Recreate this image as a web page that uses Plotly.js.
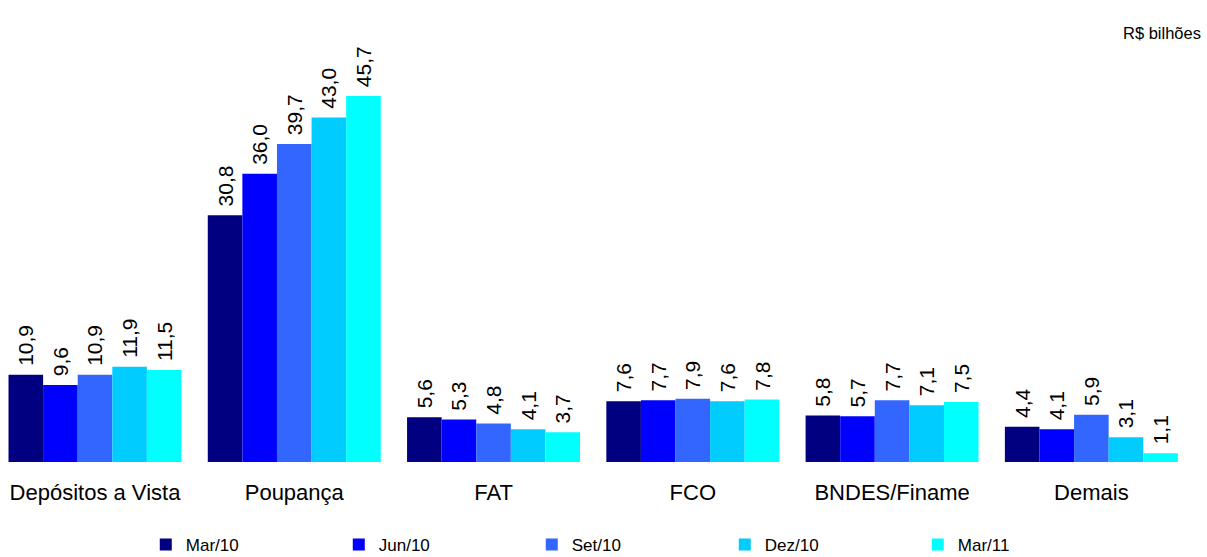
<!DOCTYPE html>
<html>
<head>
<meta charset="utf-8">
<script src="https://cdn.plot.ly/plotly-3.0.1.min.js"></script>
<style>html,body{margin:0;padding:0;background:#fff;overflow:hidden;}
#wrap{width:1207px;height:557px;overflow:hidden;}</style>
</head>
<body>
<div id="wrap"><div id="chart" style="width:1207px;height:563px;"></div></div>
<script>
const categories = ["Depósitos a Vista", "Poupança", "FAT", "FCO", "BNDES/Finame", "Demais"];
const seriesNames = ["Mar/10", "Jun/10", "Set/10", "Dez/10", "Mar/11"];
const mar10 = [10.9, 30.8, 5.6, 7.6, 5.8, 4.4];
const jun10 = [9.6, 36.0, 5.3, 7.7, 5.7, 4.1];
const set10 = [10.9, 39.7, 4.8, 7.9, 7.7, 5.9];
const dez10 = [11.9, 43.0, 4.1, 7.6, 7.1, 3.1];
const mar11 = [11.5, 45.7, 3.7, 7.8, 7.5, 1.1];
const seriesValues = [mar10, jun10, set10, dez10, mar11];
const colors = ["#000080", "#0000FF", "#3366FF", "#00CCFF", "#00FFFF"];

const font = "Liberation Sans, Arial, sans-serif";
const H = 563;
const traces = seriesValues.map((vals, i) => ({
  type: "bar",
  name: seriesNames[i],
  x: categories,
  y: vals,
  marker: {color: colors[i], line: {width: 0}},
  texttemplate: "\u00a0%{y:.1f}",
  textposition: "outside",
  textangle: -90,
  constraintext: "none",
  cliponaxis: false,
  textfont: {family: font, size: 21, color: "#000"},
  hoverinfo: "skip"
}));

const layout = {
  width: 1207, height: H,
  margin: {l: 0, r: 16, t: 0, b: 0},
  paper_bgcolor: "#fff", plot_bgcolor: "#fff",
  separators: ",.",
  barmode: "group",
  bargap: 0.132,
  bargroupgap: 0,
  font: {family: font, color: "#000"},
  xaxis: {
    type: "category",
    range: [-0.4767, 5.5],
    showgrid: false, zeroline: false, showline: false,
    ticks: "outside", ticklen: 11, tickcolor: "rgba(0,0,0,0)",
    tickfont: {family: font, size: 22, color: "#000"},
    fixedrange: true
  },
  yaxis: {
    domain: [(H - 462) / H, (H - 50) / H],
    range: [0, 51.44],
    visible: false, showgrid: false, zeroline: false,
    fixedrange: true
  },
  showlegend: true,
  legend: {
    orientation: "h",
    x: 0.1224, xanchor: "left",
    y: 0, yanchor: "bottom",
    entrywidth: 148, entrywidthmode: "pixels",
    font: {family: font, size: 17, color: "#000"},
    itemwidth: 30,
    bgcolor: "rgba(0,0,0,0)"
  },
  annotations: [{
    text: "R$ bilhões", xref: "paper", yref: "paper",
    x: 1203/1191, xanchor: "right", y: 1 - 33 / H, yanchor: "middle",
    showarrow: false, font: {family: font, size: 16.5, color: "#000"}
  }]
};

Plotly.newPlot("chart", traces, layout, {displayModeBar: false, staticPlot: true});
</script>
</body>
</html>
